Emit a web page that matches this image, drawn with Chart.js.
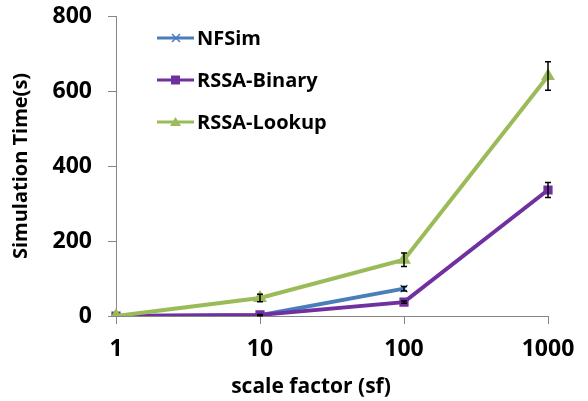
<!DOCTYPE html>
<html><head><meta charset="utf-8">
<script src="https://cdn.jsdelivr.net/npm/chart.js@4"></script>
<style>html,body{margin:0;padding:0;background:#fff}#wrap{width:588px;height:401px;position:relative}</style>
</head><body><div id="wrap"><canvas id="c" width="588" height="401"></canvas></div>
<script>
const scaleFactors = ['1', '10', '100', '1000'];
const nfsim = [0, 2, 73, null];
const nfsimErr = [0, 1, 6, null];
const binary = [0, 3, 37, 336];
const binaryErr = [0, 1, 3, 20];
const lookup = [0, 48, 150, 640];
const lookupErr = [0, 10, 18, 38];
const yMin = 0, yMax = 800, yStep = 200;

const FONT = '"Open Sans", Lato, sans-serif';
const colors = { nfsim: '#4A7EBB', binary: '#7030A0', lookup: '#9BBB59' };

const errorBars = {
  id: 'errorBars',
  afterDatasetsDraw(chart) {
    const ctx = chart.ctx, y = chart.scales.y;
    chart.data.datasets.forEach((ds, di) => {
      const meta = chart.getDatasetMeta(di);
      ds.errors.forEach((e, i) => {
        const v = ds.data[i];
        if (v == null || e == null || e <= 0) return;
        const x = meta.data[i].x;
        const yt = y.getPixelForValue(v + e), yb = y.getPixelForValue(v - e);
        ctx.save();
        ctx.strokeStyle = '#000'; ctx.lineWidth = 1.5;
        ctx.beginPath();
        ctx.moveTo(x, yt); ctx.lineTo(x, yb);
        ctx.moveTo(x - 3, yt); ctx.lineTo(x + 3, yt);
        ctx.moveTo(x - 3, yb); ctx.lineTo(x + 3, yb);
        ctx.stroke();
        ctx.restore();
      });
    });
  }
};

const customText = {
  id: 'customText',
  afterDraw(chart) {
    const ctx = chart.ctx;
    ctx.save();
    const rows = [38, 80, 122];
    chart.data.datasets.forEach((ds, i) => {
      const yy = rows[i];
      ctx.strokeStyle = ds.borderColor; ctx.lineWidth = 3;
      ctx.beginPath(); ctx.moveTo(157, yy); ctx.lineTo(194, yy); ctx.stroke();
      ctx.fillStyle = ds.borderColor;
      ctx.lineWidth = 1.5;
      if (ds.pointStyle === 'crossRot') {
        ctx.beginPath();
        ctx.moveTo(172, yy - 4); ctx.lineTo(180, yy + 4);
        ctx.moveTo(180, yy - 4); ctx.lineTo(172, yy + 4);
        ctx.stroke();
      } else if (ds.pointStyle === 'rect') {
        ctx.fillRect(171, yy - 4.5, 9, 9);
      } else {
        ctx.beginPath();
        ctx.moveTo(175.5, yy - 5); ctx.lineTo(181, yy + 4); ctx.lineTo(170, yy + 4); ctx.closePath(); ctx.fill();
      }
      ctx.fillStyle = '#000';
      ctx.font = 'bold 20px ' + FONT;
      ctx.textBaseline = 'middle'; ctx.textAlign = 'left';
      ctx.fillText(ds.label, 197, yy + 1);
    });
    ctx.font = 'bold 21px ' + FONT;
    ctx.textAlign = 'center'; ctx.textBaseline = 'middle';
    ctx.fillText('scale factor (sf)', 311, 387);
    ctx.restore();
  }
};

new Chart(document.getElementById('c'), {
  type: 'line',
  data: {
    labels: scaleFactors,
    datasets: [
      { label: 'NFSim', data: nfsim, errors: nfsimErr, borderColor: colors.nfsim, backgroundColor: colors.nfsim,
        pointStyle: 'crossRot', pointRadius: 5, pointBorderWidth: 1.5, borderWidth: 4, order: 3 },
      { label: 'RSSA-Binary', data: binary, errors: binaryErr, borderColor: colors.binary, backgroundColor: colors.binary,
        pointStyle: 'rect', pointRadius: 6.5, pointBorderWidth: 0, borderWidth: 4, order: 2 },
      { label: 'RSSA-Lookup', data: lookup, errors: lookupErr, borderColor: colors.lookup, backgroundColor: colors.lookup,
        pointStyle: 'triangle', pointRadius: 8, pointBorderWidth: 0, borderWidth: 4, order: 1 }
    ]
  },
  options: {
    responsive: false, animation: false, devicePixelRatio: 1,
    layout: { padding: { top: 16, right: 40, left: 0, bottom: 0 } },
    plugins: { legend: { display: false }, tooltip: { enabled: false } },
    elements: { line: { tension: 0 } },
    scales: {
      x: {
        type: 'category', offset: false,
        grid: { drawOnChartArea: false, drawTicks: true, tickLength: 8, color: '#868686' },
        border: { color: '#868686', width: 1 },
        ticks: { font: { family: FONT, size: 23, weight: 'bold' }, color: '#000', padding: 12, maxRotation: 0 },
        afterFit(s) { s.height = 85; }
      },
      y: {
        min: yMin, max: yMax,
        grid: { drawOnChartArea: false, drawTicks: true, tickLength: 8, color: '#868686' },
        border: { color: '#868686', width: 1 },
        ticks: { stepSize: yStep, font: { family: FONT, size: 23, weight: 'bold' }, color: '#000', padding: 16 },
        title: { display: true, text: 'Simulation Time(s)', font: { family: FONT, size: 20, weight: 'bold' }, color: '#000', padding: { top: 9, bottom: 0 } },
        afterFit(s) { s.width = 116; s.paddingTop = 0; s.paddingBottom = 0; }
      }
    }
  },
  plugins: [errorBars, customText]
});
</script></body></html>
